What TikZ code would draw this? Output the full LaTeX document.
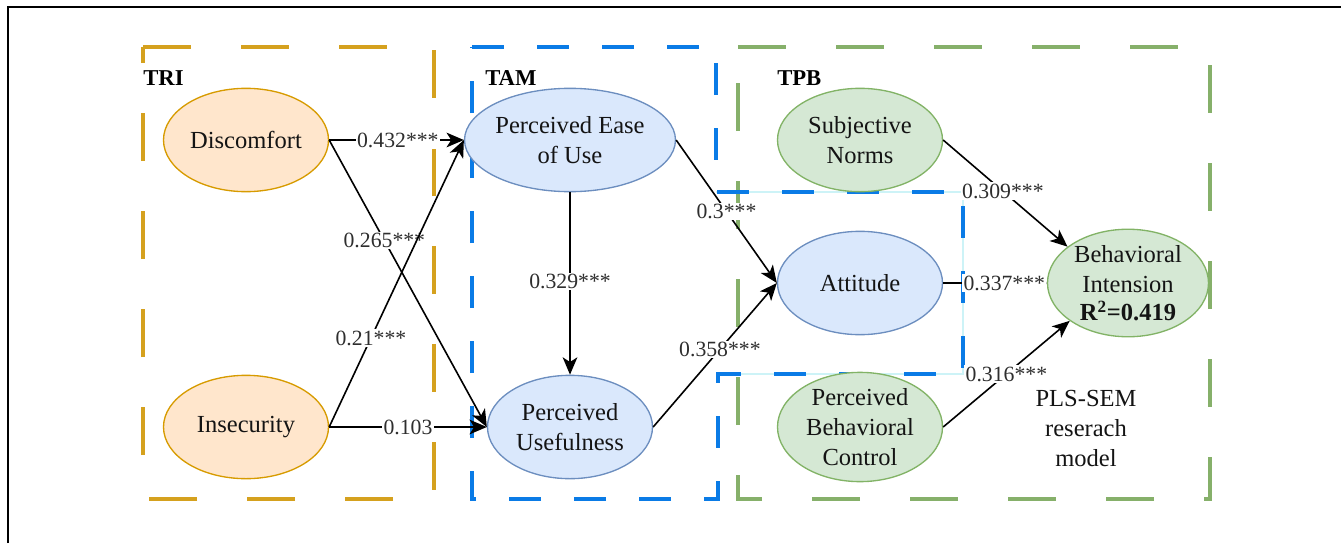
\documentclass[tikz,border=0pt]{standalone}
\usepackage{fontspec}
\setmainfont{Liberation Serif}
\newfontfamily\tnr{Liberation Serif}
\usetikzlibrary{shapes.geometric,arrows.meta}
\definecolor{goldline}{HTML}{D5A11E}
\definecolor{blueline}{HTML}{0A7BE6}
\definecolor{greenline}{HTML}{86B06A}
\definecolor{cyanline}{HTML}{CDF3F7}
\definecolor{orfill}{HTML}{FFE6CC}
\definecolor{orline}{HTML}{D79B00}
\definecolor{blfill}{HTML}{DAE8FC}
\definecolor{blline}{HTML}{6C8EBF}
\definecolor{grfill}{HTML}{D5E8D4}
\definecolor{grline}{HTML}{82B366}
\newcommand\mynodefont{\tnr\fontsize{18.4}{22.5}\selectfont}
\newcommand\mylblfont{\tnr\fontsize{16.3}{19}\selectfont}
\begin{document}
\begin{tikzpicture}[x=0.75pt,y=-0.75pt,
  lat/.style={ellipse, draw, line width=1pt, minimum width=123.75pt, minimum height=77.5pt, inner sep=0pt, align=center, font=\mynodefont, text=black!92},
  trin/.style={lat, fill=orfill, draw=orline},
  tamn/.style={lat, fill=blfill, draw=blline},
  tpbn/.style={lat, fill=grfill, draw=grline},
  conn/.style={line width=1.2pt, -{Stealth[length=13pt,width=11pt,inset=3.5pt]}},
  lbl/.style={fill=white, inner sep=1pt, font=\mylblfont, text=black!82},
  goldbox/.style={draw=goldline, line width=3pt, dash pattern=on 36pt off 37.5pt},
  greenbox/.style={draw=greenline, line width=3pt, dash pattern=on 36pt off 37.5pt},
  bluebox/.style={draw=blueline, line width=3pt, dash pattern=on 24pt off 24.75pt},
  title/.style={font=\tnr\fontsize{17}{20}\selectfont\bfseries, anchor=west, inner sep=0pt}
]
\useasboundingbox (0,0) rectangle (1341,543);
% outer frame (partial)
\draw[line width=1.6pt] (8,543) -- (8,7) -- (1341,7);

% group boxes
\draw[goldbox] (143,47) -- (434,47) -- (434,499) -- (143,499) -- cycle;
\draw[greenbox] (738,47) -- (1210,47) -- (1210,499) -- (738,499) -- cycle;
\draw[cyanline, line width=0.8pt] (716,192) -- (963,192) -- (963,374) -- (718,374);
\draw[bluebox] (472,47) -- (716,47) -- (716,192) -- (963,192) -- (963,374) -- (718,374) -- (718,499) -- (472,499) -- cycle;

\node[title] (tri) at (143,78) {TRI};
\node[title] (tam) at (485,78) {TAM};
\node[title] (tpb) at (777,78) {TPB};

% constructs
\node[trin] (dis) at (246,140) {Discomfort};
\node[trin] (ins) at (246,427) {Insecurity};
\node[tamn] (peou) at (570,140) {Perceived Ease\\of Use};
\node[tamn] (pu) at (570,427) {Perceived\\Usefulness};
\node[tpbn] (sn) at (860,140) {Subjective\\Norms};
\node[tamn] (att) at (860,283) {Attitude};
\node[tpbn] (pbc) at (860,427) {Perceived\\Behavioral\\Control};
\node[tpbn, minimum width=120.75pt] (bi) at (1128,283) {Behavioral\\Intension\\[-1pt]\textbf{R\textsuperscript{2}=0.419}};

\node[font=\mynodefont, align=center, text=black!92] (pls) at (1086,428) {PLS-SEM\\reserach\\model};

% paths
\draw[conn] (dis.east) -- node[lbl, pos=0.51] {0.432***} (peou.west);
\draw[conn] (dis.east) -- node[lbl, pos=0.35] {0.265***} (pu.west);
\draw[conn] (ins.east) -- node[lbl, pos=0.31] {0.21***} (peou.west);
\draw[conn] (ins.east) -- node[lbl, pos=0.5] {0.103} (pu.west);
\draw[conn] (peou.south) -- node[lbl, pos=0.49] {0.329***} (pu.north);
\draw[conn] (peou.east) -- node[lbl, pos=0.5] {0.3***} (att.west);
\draw[conn] (pu.east) -- node[lbl, pos=0.54] {0.358***} (att.west);
\draw[conn] (sn.east) -- node[lbl, pos=0.48] {0.309***} (bi.149);
\draw[conn] (att.east) -- node[lbl, pos=0.59] {0.337***} (bi.west);
\draw[conn] (pbc.east) -- node[lbl, pos=0.5] {0.316***} (bi.213);
\end{tikzpicture}
\end{document}
